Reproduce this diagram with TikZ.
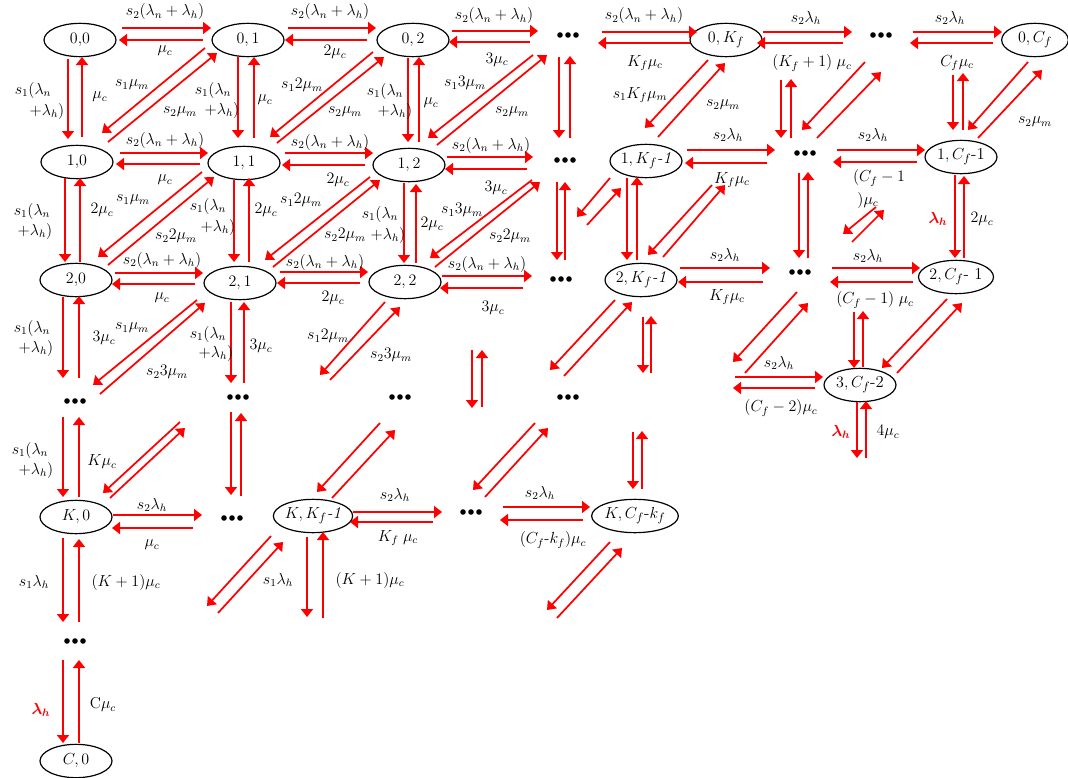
\documentclass[tikz,border=0pt]{standalone}
\usepackage{amsmath}
\usetikzlibrary{arrows.meta,shapes.geometric}
\tikzset{
 st/.style={ellipse,draw,line width=0.9pt,minimum width=54pt,minimum height=25pt,inner sep=0pt,font=\fontsize{12.5}{14}\selectfont},
 arr/.style={draw=red,line width=1.3pt,-{Triangle[width=9pt,length=6pt]}},
 lb/.style={font=\fontsize{11.8}{14}\selectfont,inner sep=0pt},
 rl/.style={font=\fontsize{11.8}{14}\selectfont\boldmath,text=red,inner sep=0pt},
}
\newcommand\dotsat[3]{\coordinate (#1) at (#2,#3);\fill ([xshift=-6pt]#1) circle (2.8) (#1) circle (2.8) ([xshift=6pt]#1) circle (2.8);}
\begin{document}
\begin{tikzpicture}[x=0.75pt,y=-0.75pt]
\useasboundingbox (0,0) rectangle (1068,778);
% states
\node[st] (n00) at (80,40) {$0{,}0$};
\node[st] (n01) at (248,40) {$0,1$};
\node[st] (n02) at (413,40) {$0,2$};
\node[st] (n0K) at (726,40) {$0,K_f$};
\node[st,minimum width=50pt] (n0C) at (1035,40) {$0,C_f$};
\node[st] (n10) at (77,162) {$1{,}0$};
\node[st] (n11) at (244,163) {$1,1$};
\node[st] (n12) at (409,165) {$1,2$};
\node[st] (n1K) at (646,161) {$1,K_f$\textit{-1}};
\node[st] (n1C) at (961,157) {$1,C_f$-1};
\node[st] (n20) at (76,280) {$2{,}0$};
\node[st] (n21) at (240,283) {$2,1$};
\node[st] (n22) at (405,282) {$2,2$};
\node[st] (n2K) at (641,280) {$2,K_f$\textit{-1}};
\node[st] (n2C) at (956,277) {$2,C_f$- 1};
\node[st] (n3C) at (860,385) {$3,C_f$-2};
\node[st] (nK0) at (76,517) {$K,0$};
\node[st] (nKK) at (313,516) {$K,K_f$\textit{-1}};
\node[st,minimum width=64pt] (nKC) at (635,516) {$K,C_f$-$k_f$};
\node[st] (nC0) at (76,761) {$C,0$};
% dots
\dotsat{d0a}{568}{35}
\dotsat{d0b}{881}{35}
\dotsat{d1a}{565}{160}
\dotsat{d1b}{805}{153}
\dotsat{d2a}{561}{279}
\dotsat{d2b}{800}{272}
\dotsat{d3a}{75}{401}
\dotsat{d3b}{238}{397}
\dotsat{d3c}{400}{397}
\dotsat{d3d}{568}{397}
\dotsat{dKa}{232}{518}
\dotsat{dKb}{471}{512}
\dotsat{dCa}{75}{641}
% horizontal row 0
\draw[arr] (122,28) -- (211,28); \draw[arr] (203,40) -- (119,40);
\draw[arr] (288,28) -- (376,28); \draw[arr] (367,40) -- (285,40);
\draw[arr] (452,31) -- (538,31); \draw[arr] (530,42) -- (449,42);
\draw[arr] (602,32) -- (697,32); \draw[arr] (690,43) -- (598,43);
\draw[arr] (763,32) -- (852,32); \draw[arr] (843,43) -- (757,43);
\draw[arr] (913,32) -- (1002,32); \draw[arr] (993,43) -- (910,43);
% row 1
\draw[arr] (120,153) -- (208,153); \draw[arr] (200,164) -- (116,164);
\draw[arr] (285,153) -- (373,153); \draw[arr] (365,165) -- (282,165);
\draw[arr] (447,157) -- (533,157); \draw[arr] (527,169) -- (445,169);
\draw[arr] (687,150) -- (775,150); \draw[arr] (767,163) -- (685,163);
\draw[arr] (837,150) -- (925,150); \draw[arr] (917,162) -- (833,162);
% row 2
\draw[arr] (115,273) -- (203,273); \draw[arr] (195,284) -- (112,284);
\draw[arr] (280,272) -- (368,272); \draw[arr] (360,283) -- (277,283);
\draw[arr] (442,276) -- (532,276); \draw[arr] (523,288) -- (440,288);
\draw[arr] (680,268) -- (770,268); \draw[arr] (763,282) -- (678,282);
\draw[arr] (832,268) -- (920,268); \draw[arr] (913,282) -- (830,282);
% row 3
\draw[arr] (735,377) -- (823,377); \draw[arr] (815,388) -- (733,388);
% row K
\draw[arr] (113,515) -- (202,515); \draw[arr] (193,528) -- (112,528);
\draw[arr] (353,512) -- (442,512); \draw[arr] (433,522) -- (350,522);
\draw[arr] (503,507) -- (590,507); \draw[arr] (583,520) -- (500,520);
% verticals col 0
\draw[arr] (68,59) -- (68,139); \draw[arr] (82,137) -- (82,57);
\draw[arr] (65,178) -- (65,262); \draw[arr] (80,262) -- (80,178);
\draw[arr] (63,297) -- (63,378); \draw[arr] (79,378) -- (79,296);
\draw[arr] (63,417) -- (63,497); \draw[arr] (79,497) -- (79,417);
\draw[arr] (63,538) -- (63,622); \draw[arr] (79,622) -- (79,539);
\draw[arr] (63,660) -- (63,743); \draw[arr] (79,743) -- (79,660);
% col 1
\draw[arr] (238,57) -- (238,138); \draw[arr] (254,138) -- (254,57);
\draw[arr] (234,180) -- (234,262); \draw[arr] (249,262) -- (249,178);
\draw[arr] (231,302) -- (231,383); \draw[arr] (244,383) -- (244,302);
\draw[arr] (231,412) -- (231,495); \draw[arr] (241,496) -- (241,413);
% col 2
\draw[arr] (408,58) -- (408,142); \draw[arr] (419,142) -- (419,57);
\draw[arr] (404,183) -- (404,263); \draw[arr] (416,263) -- (416,184);
\draw[arr] (472,350) -- (472,408); \draw[arr] (482,407) -- (482,350);
% col 3
\draw[arr] (559,57) -- (559,138); \draw[arr] (570,138) -- (570,56);
\draw[arr] (557,182) -- (557,260); \draw[arr] (565,260) -- (565,182);
% col Kf
\draw[arr] (627,178) -- (627,260); \draw[arr] (637,260) -- (637,177);
\draw[arr] (643,317) -- (643,373); \draw[arr] (651,373) -- (651,316);
\draw[arr] (633,432) -- (633,489); \draw[arr] (642,489) -- (642,431);
% col dots right
\draw[arr] (781,80) -- (781,138); \draw[arr] (791,138) -- (791,79);
\draw[arr] (799,173) -- (799,258); \draw[arr] (808,258) -- (808,172);
\draw[arr] (854,312) -- (854,368); \draw[arr] (863,367) -- (863,311);
% col Cf
\draw[arr] (953,75) -- (953,130); \draw[arr] (963,130) -- (963,73);
\draw[arr] (955,175) -- (955,258); \draw[arr] (964,258) -- (964,176);
\draw[arr] (857,402) -- (857,458); \draw[arr] (866,458) -- (866,401);
% K,Kf-1 down
\draw[arr] (307,537) -- (307,617); \draw[arr] (323,618) -- (323,532);
% diagonals
\draw[arr] (205,48) -- (102,133); \draw[arr] (108,142) -- (217,53);
\draw[arr] (202,172) -- (98,257); \draw[arr] (108,265) -- (214,177);
\draw[arr] (197,300) -- (93,385); \draw[arr] (100,394) -- (205,303);
\draw[arr] (180,422) -- (103,493); \draw[arr] (110,498) -- (185,428);
\draw[arr] (373,52) -- (270,137); \draw[arr] (277,143) -- (384,57);
\draw[arr] (370,177) -- (265,260); \draw[arr] (273,267) -- (380,180);
\draw[arr] (533,55) -- (428,138); \draw[arr] (437,145) -- (547,55);
\draw[arr] (532,180) -- (430,258); \draw[arr] (435,267) -- (540,182);
\draw[arr] (385,302) -- (320,375); \draw[arr] (330,380) -- (400,307);
\draw[arr] (708,60) -- (645,128); \draw[arr] (658,137) -- (725,63);
\draw[arr] (865,62) -- (802,130); \draw[arr] (817,138) -- (881,72);
\draw[arr] (1028,62) -- (968,130); \draw[arr] (978,138) -- (1042,70);
\draw[arr] (712,185) -- (648,255); \draw[arr] (663,257) -- (725,185);
\draw[arr] (876,207) -- (843,234); \draw[arr] (852,242) -- (884,210);
\draw[arr] (615,300) -- (550,370); \draw[arr] (564,376) -- (632,302);
\draw[arr] (797,292) -- (733,362); \draw[arr] (745,373) -- (808,303);
\draw[arr] (947,299) -- (882,368); \draw[arr] (897,373) -- (962,303);
\draw[arr] (380,423) -- (317,492); \draw[arr] (332,498) -- (395,430);
\draw[arr] (271,536) -- (207,606); \draw[arr] (218,613) -- (283,542);
\draw[arr] (535,423) -- (473,490); \draw[arr] (485,497) -- (548,428);
\draw[arr] (610,542) -- (547,610); \draw[arr] (557,618) -- (622,548);
\draw[arr] (610,178) -- (577,217); \draw[arr] (587,225) -- (621,188);
% labels row 0
\node[lb] at (165,12) {$s_2(\lambda_n+\lambda_h)$};
\node[lb] at (165,51) {$\mu_c$};
\node[lb] at (330,12) {$s_2(\lambda_n+\lambda_h)$};
\node[lb] at (335,52) {$2\mu_c$};
\node[lb] at (494,16) {$s_2(\lambda_n+\lambda_h)$};
\node[lb] at (497,60) {$3\mu_c$};
\node[lb] at (644,16) {$s_2(\lambda_n+\lambda_h)$};
\node[lb] at (645,63) {$K_f\mu_c$};
\node[lb] at (806,18) {$s_2\lambda_h$};
\node[lb] at (812,63) {$(K_f+1)\;\mu_c$};
\node[lb] at (950,18) {$s_2\lambda_h$};
\node[lb] at (957,63) {$C_f\mu_c$};
% col 0
\node[lb] at (33,90) {$s_1(\lambda_n$};
\node[lb] at (47,111) {$+\lambda_h)$};
\node[lb] at (100,97) {$\mu_c$};
\node[lb] at (32,211) {$s_1(\lambda_n$};
\node[lb] at (35,231) {$+\lambda_h)$};
\node[lb] at (102,210) {$2\mu_c$};
\node[lb] at (32,328) {$s_1(\lambda_n$};
\node[lb] at (36,348) {$+\lambda_h)$};
\node[lb] at (104,338) {$3\mu_c$};
\node[lb] at (30,450) {$s_1(\lambda_n$};
\node[lb] at (36,470) {$+\lambda_h)$};
\node[lb] at (102,462) {$K\mu_c$};
\node[lb] at (34,582) {$s_1\lambda_h$};
\node[lb] at (126,582) {$(K+1)\mu_c$};
\node[rl] at (41,710) {$\lambda_h$};
\node[lb] at (103,705) {C$\mu_c$};
% col 1
\node[lb] at (213,90) {$s_1(\lambda_n$};
\node[lb] at (222,110) {$+\lambda_h)$};
\node[lb] at (265,100) {$\mu_c$};
\node[lb] at (208,206) {$s_1(\lambda_n$};
\node[lb] at (218,227) {$+\lambda_h)$};
\node[lb] at (266,210) {$2\mu_c$};
\node[lb] at (208,334) {$s_1(\lambda_n$};
\node[lb] at (216,353) {$+\lambda_h)$};
\node[lb] at (261,346) {$3\mu_c$};
% col 2
\node[lb] at (385,91) {$s_1(\lambda_n$};
\node[lb] at (395,111) {$+\lambda_h)$};
\node[lb] at (431,103) {$\mu_c$};
\node[lb] at (380,214) {$s_1(\lambda_n$};
\node[lb] at (388,235) {$+\lambda_h)$};
\node[lb] at (432,224) {$2\mu_c$};
% diagonal labels
\node[lb] at (132,85) {$s_1\mu_m$};
\node[lb] at (180,112) {$s_2\mu_m$};
\node[lb] at (133,200) {$s_1\mu_m$};
\node[lb] at (176,236) {$s_2 2\mu_m$};
\node[lb] at (132,328) {$s_1\mu_m$};
\node[lb] at (167,372) {$s_2 3\mu_m$};
\node[lb] at (302,85) {$s_1 2\mu_m$};
\node[lb] at (345,112) {$s_2\mu_m$};
\node[lb] at (301,200) {$s_1 2\mu_m$};
\node[lb] at (345,235) {$s_2 2\mu_m$};
\node[lb] at (465,83) {$s_1 3\mu_m$};
\node[lb] at (512,112) {$s_2\mu_m$};
\node[lb] at (462,210) {$s_1 3\mu_m$};
\node[lb] at (510,236) {$s_2 2\mu_m$};
\node[lb] at (328,336) {$s_1 2\mu_m$};
\node[lb] at (391,355) {$s_2 3\mu_m$};
\node[lb] at (640,95) {$s_1K_f\mu_m$};
\node[lb] at (723,105) {$s_2\mu_m$};
\node[lb] at (1035,122) {$s_2\mu_m$};
% row 1 labels
\node[lb] at (165,140) {$s_2(\lambda_n+\lambda_h)$};
\node[lb] at (165,180) {$\mu_c$};
\node[lb] at (330,142) {$s_2(\lambda_n+\lambda_h)$};
\node[lb] at (338,180) {$2\mu_c$};
\node[lb] at (491,145) {$s_2(\lambda_n+\lambda_h)$};
\node[lb] at (496,188) {$3\mu_c$};
\node[lb] at (728,135) {$s_2\lambda_h$};
\node[lb] at (732,180) {$K_f\mu_c$};
\node[lb] at (873,135) {$s_2\lambda_h$};
\node[lb] at (879,178) {$(C_f-1$};
\node[lb] at (868,200) {$)\mu_c$};
% row 2 labels
\node[lb] at (162,260) {$s_2(\lambda_n+\lambda_h)$};
\node[lb] at (162,298) {$\mu_c$};
\node[lb] at (325,262) {$s_2(\lambda_n+\lambda_h)$};
\node[lb] at (333,298) {$2\mu_c$};
\node[lb] at (487,264) {$s_2(\lambda_n+\lambda_h)$};
\node[lb] at (493,308) {$3\mu_c$};
\node[lb] at (725,255) {$s_2\lambda_h$};
\node[lb] at (727,297) {$K_f\mu_c$};
\node[lb] at (868,256) {$s_2\lambda_h$};
\node[lb] at (875,300) {$(C_f-1)\;\mu_c$};
\node[rl] at (938,219) {$\lambda_h$};
\node[lb] at (982,219) {$2\mu_c$};
% row 3 labels
\node[lb] at (779,363) {$s_2\lambda_h$};
\node[lb] at (781,408) {$(C_f-2)\mu_c$};
\node[rl] at (841,432) {$\lambda_h$};
\node[lb] at (888,432) {$4\mu_c$};
% row K labels
\node[lb] at (152,505) {$s_2\lambda_h$};
\node[lb] at (152,545) {$\mu_c$};
\node[lb] at (395,495) {$s_2\lambda_h$};
\node[lb] at (398,538) {$K_f\;\mu_c$};
\node[lb] at (540,493) {$s_2\lambda_h$};
\node[lb] at (553,540) {$(C_f$-$k_f)\mu_c$};
\node[lb] at (278,580) {$s_1\lambda_h$};
\node[lb] at (370,580) {$(K+1)\mu_c$};
\end{tikzpicture}
\end{document}
